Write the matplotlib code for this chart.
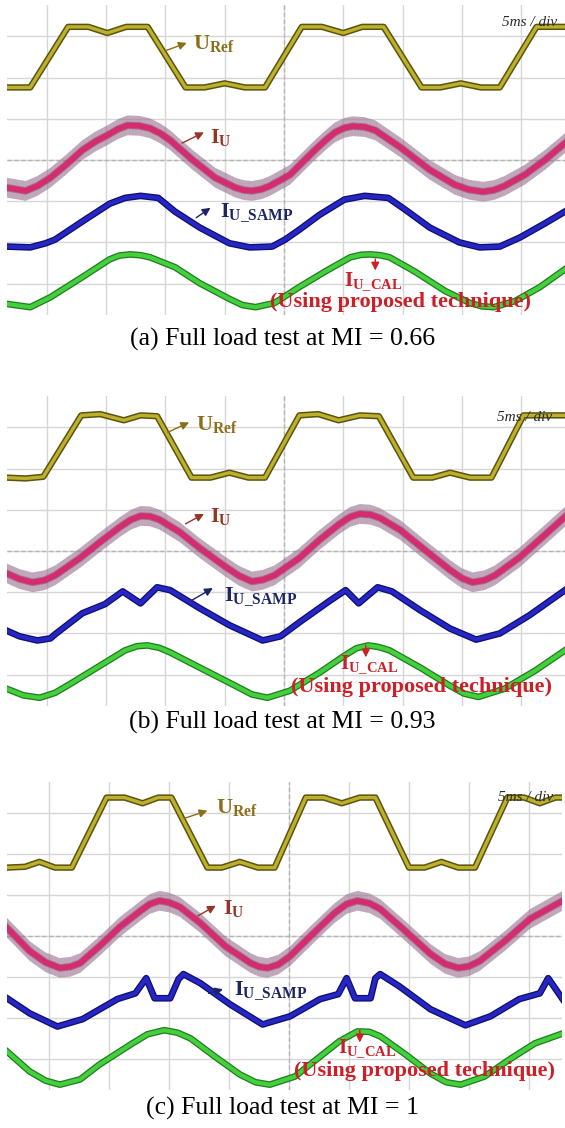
import matplotlib
matplotlib.use('Agg')
import matplotlib.pyplot as plt

plt.rcParams['font.family'] = ['Liberation Serif', 'DejaVu Serif']
plt.rcParams['mathtext.fontset'] = 'custom'
plt.rcParams['mathtext.rm'] = 'Liberation Serif'
plt.rcParams['mathtext.bf'] = 'Liberation Serif:bold'
plt.rcParams['mathtext.it'] = 'Liberation Serif:italic'
plt.rcParams['hatch.linewidth'] = 0.5

# time in ms (5 ms/div, screen 0..50 ms), level in divisions (0 = centre line)
captions = ['(a) Full load test at MI = 0.66',
            '(b) Full load test at MI = 0.93',
            '(c) Full load test at MI = 1']

# ---- (a) MI = 0.66
a_uref_t = [1.6, 3.6, 6.8, 8.5, 10.1, 11.7, 13.5, 16.7, 18.3, 20.0, 21.7, 23.4, 26.5, 28.2, 30.0, 31.6, 33.4,
            36.6, 38.2, 39.9, 41.6, 43.2, 46.3, 48.7]
a_uref_v = [1.76, 1.76, 3.23, 3.23, 3.08, 3.23, 3.23, 1.76, 1.76, 1.86, 1.76, 1.76, 3.23, 3.23, 3.08, 3.23, 3.23,
            1.76, 1.76, 1.86, 1.76, 1.76, 3.23, 3.23]
a_iu_t = [1.6, 3.2, 4.2, 5.3, 6.6, 8.0, 9.1, 10.1, 11.0, 11.8, 12.8, 13.7, 14.6, 15.4, 17.3, 19.2, 20.9, 21.6,
          22.3, 23.1, 23.8, 25.5, 27.6, 28.5, 29.3, 30.1, 30.8, 31.8, 32.7, 34.8, 37.3, 39.4, 40.6, 41.8, 42.7,
          43.6, 45.3, 47.0, 48.7]
a_iu_v = [-0.67, -0.75, -0.63, -0.43, -0.12, 0.24, 0.45, 0.60, 0.75, 0.84, 0.83, 0.77, 0.64, 0.48, 0.00, -0.43,
          -0.67, -0.73, -0.75, -0.71, -0.63, -0.36, 0.24, 0.48, 0.67, 0.78, 0.82, 0.80, 0.72, 0.31, -0.24, -0.60,
          -0.72, -0.77, -0.73, -0.63, -0.36, 0.00, 0.41]
a_samp_t = [1.6, 3.6, 4.9, 5.7, 8.0, 10.3, 11.6, 12.9, 14.4, 15.8, 17.9, 20.4, 22.1, 24.0, 25.1, 26.3, 28.0, 30.1,
            31.8, 33.8, 35.2, 37.3, 39.8, 41.5, 43.2, 44.9, 47.0, 48.7]
a_samp_v = [-2.10, -2.12, -2.02, -1.93, -1.49, -1.06, -0.92, -0.87, -0.92, -1.25, -1.64, -2.02, -2.12, -2.10, -1.93,
            -1.69, -1.33, -0.96, -0.87, -0.92, -1.20, -1.64, -2.00, -2.12, -2.10, -1.88, -1.54, -1.25]
a_cal_t = [1.6, 3.6, 5.3, 8.0, 10.3, 11.1, 12.0, 12.9, 13.7, 15.8, 17.9, 20.4, 21.5, 22.6, 24.2, 26.3, 28.5, 30.6,
           31.5, 32.3, 33.1, 33.9, 36.0, 38.6, 40.7, 41.7, 42.7, 44.5, 46.6, 48.7]
a_cal_v = [-3.49, -3.57, -3.33, -2.84, -2.41, -2.32, -2.29, -2.31, -2.36, -2.60, -2.99, -3.37, -3.52, -3.57, -3.47,
           -3.08, -2.70, -2.36, -2.30, -2.29, -2.31, -2.36, -2.70, -3.18, -3.47, -3.55, -3.57, -3.42, -3.08, -2.65]

# ---- (b) MI = 0.93
b_uref_t = [1.6, 3.2, 4.7, 7.9, 9.5, 11.5, 12.9, 14.3, 17.2, 18.8, 20.4, 22.0, 23.4, 26.3, 27.9, 29.6, 31.4, 33.0,
            35.9, 37.5, 39.0, 40.7, 42.5, 45.2, 48.7]
b_uref_v = [1.78, 1.76, 1.80, 3.29, 3.32, 3.17, 3.29, 3.27, 1.78, 1.78, 1.90, 1.78, 1.78, 3.29, 3.32, 3.17, 3.29,
            3.27, 1.78, 1.78, 1.90, 1.78, 1.78, 3.29, 3.29]
b_iu_t = [1.6, 2.7, 3.8, 4.8, 5.7, 7.8, 9.5, 11.2, 12.1, 12.9, 13.7, 14.5, 16.2, 17.9, 20.0, 21.2, 22.3, 23.2,
          24.2, 26.3, 28.0, 29.7, 30.6, 31.4, 32.3, 33.1, 34.8, 36.9, 39.0, 40.0, 40.9, 41.9, 42.8, 44.9, 47.0, 48.7]
b_iu_v = [-0.54, -0.68, -0.76, -0.71, -0.59, -0.17, 0.22, 0.59, 0.76, 0.85, 0.84, 0.76, 0.46, 0.07, -0.37, -0.60,
          -0.74, -0.70, -0.59, -0.17, 0.27, 0.66, 0.83, 0.90, 0.88, 0.80, 0.51, 0.02, -0.46, -0.66, -0.76, -0.71,
          -0.59, -0.15, 0.39, 0.83]
b_samp_t = [1.6, 2.7, 4.2, 5.3, 5.7, 8.0, 9.9, 11.4, 12.9, 14.3, 15.4, 17.9, 20.4, 23.2, 24.7, 26.3, 28.9, 30.2,
            31.3, 32.9, 34.1, 36.5, 39.0, 41.2, 43.2, 45.7, 48.7]
b_samp_v = [-1.93, -2.07, -2.17, -2.12, -2.02, -1.51, -1.29, -0.98, -1.27, -0.88, -0.95, -1.39, -1.80, -2.17, -2.07,
            -1.73, -1.20, -0.95, -1.27, -0.88, -0.98, -1.44, -1.88, -2.15, -2.00, -1.56, -0.95]
b_cal_t = [1.6, 3.0, 4.4, 5.7, 7.0, 9.5, 11.6, 12.6, 13.5, 14.5, 15.4, 17.9, 20.9, 22.3, 23.6, 25.5, 28.0, 30.1,
           31.1, 32.1, 33.0, 33.9, 36.5, 39.0, 40.2, 41.4, 43.6, 46.2, 48.7]
b_cal_v = [-3.34, -3.50, -3.56, -3.44, -3.22, -2.78, -2.41, -2.31, -2.29, -2.35, -2.46, -2.83, -3.27, -3.48, -3.56,
           -3.39, -2.95, -2.54, -2.36, -2.29, -2.33, -2.41, -2.83, -3.27, -3.46, -3.54, -3.34, -2.90, -2.41]

# ---- (c) MI = 1
c_uref_t = [1.5, 3.0, 4.2, 5.5, 6.9, 9.8, 11.3, 12.8, 14.1, 15.2, 18.2, 19.4, 20.9, 22.4, 23.8, 26.4, 27.9, 29.4,
            30.9, 32.2, 35.0, 36.3, 37.7, 39.1, 40.5, 43.2, 44.6, 45.9, 47.2, 47.8]
c_uref_v = [1.67, 1.69, 1.81, 1.67, 1.67, 3.38, 3.38, 3.24, 3.38, 3.38, 1.67, 1.67, 1.81, 1.67, 1.67, 3.38, 3.38,
            3.24, 3.38, 3.38, 1.67, 1.67, 1.81, 1.67, 1.67, 3.38, 3.38, 3.24, 3.38, 3.38]
c_iu_t = [1.5, 3.4, 4.7, 5.9, 6.8, 7.6, 9.2, 10.9, 12.6, 13.4, 14.2, 15.0, 15.9, 17.6, 19.7, 21.8, 22.5, 23.2,
          24.1, 25.1, 26.8, 28.8, 29.8, 30.7, 31.7, 32.6, 34.7, 36.8, 38.0, 39.1, 40.0, 40.9, 43.0, 45.1, 47.8]
c_iu_v = [0.20, -0.37, -0.64, -0.78, -0.75, -0.66, -0.25, 0.22, 0.61, 0.78, 0.86, 0.82, 0.71, 0.32, -0.25, -0.66,
          -0.75, -0.78, -0.70, -0.49, 0.00, 0.56, 0.78, 0.86, 0.80, 0.66, 0.12, -0.44, -0.68, -0.78, -0.74, -0.61,
          -0.12, 0.42, 0.86]
c_samp_t = [1.5, 3.4, 5.7, 7.8, 10.7, 12.2, 13.1, 13.8, 15.1, 15.8, 16.2, 17.6, 20.1, 22.8, 25.1, 27.6, 29.1, 29.8,
            30.5, 31.8, 32.2, 32.6, 34.2, 36.8, 39.7, 41.8, 44.2, 45.9, 46.6, 47.8]
c_samp_v = [-1.52, -1.89, -2.21, -2.03, -1.54, -1.40, -1.03, -1.52, -1.52, -1.05, -0.93, -1.15, -1.67, -2.16, -1.96,
            -1.54, -1.42, -1.03, -1.52, -1.52, -1.03, -0.93, -1.23, -1.79, -2.18, -1.96, -1.54, -1.40, -1.03, -1.54]
c_cal_t = [1.5, 3.4, 4.7, 5.9, 7.6, 9.2, 11.8, 13.2, 14.6, 15.7, 16.8, 18.8, 20.9, 22.2, 23.4, 25.5, 27.6, 29.2,
           30.7, 31.7, 32.6, 34.7, 36.8, 38.1, 39.3, 41.3, 43.4, 45.5, 47.8]
c_cal_v = [-2.82, -3.31, -3.53, -3.63, -3.50, -3.14, -2.65, -2.40, -2.30, -2.36, -2.50, -2.94, -3.38, -3.57, -3.63,
           -3.43, -2.94, -2.57, -2.33, -2.34, -2.45, -2.89, -3.36, -3.57, -3.63, -3.43, -3.01, -2.62, -2.38]

panels = [
    dict(uref=(a_uref_t, a_uref_v), iu=(a_iu_t, a_iu_v), samp=(a_samp_t, a_samp_v), cal=(a_cal_t, a_cal_v),
         rect=[7 / 565, 813 / 1128, 558 / 565, 310 / 1128], xlim=(1.64, 48.7),
         lab_uref=((15.0, 2.65), (16.8, 2.84), (17.3, 2.82)),
         lab_iu=((16.4, 0.41), (18.25, 0.67), (18.8, 0.55)),
         lab_samp=((17.6, -1.40), (18.8, -1.16), (19.6, -1.28)),
         lab_cal=((32.7, -2.40), (32.7, -2.68), (32.5, -2.93), (34.8, -3.44)),
         scale=(45.7, 3.33), cap_y=339),
    dict(uref=(b_uref_t, b_uref_v), iu=(b_iu_t, b_iu_v), samp=(b_samp_t, b_samp_v), cal=(b_cal_t, b_cal_v),
         rect=[7 / 565, 422 / 1128, 558 / 565, 310 / 1128], xlim=(1.64, 48.7),
         lab_uref=((15.2, 2.88), (17.0, 3.12), (17.6, 3.07)),
         lab_iu=((16.7, 0.66), (18.25, 0.90), (18.8, 0.83)),
         lab_samp=((17.2, -1.20), (19.0, -0.90), (19.9, -1.12)),
         lab_cal=((31.9, -2.28), (31.9, -2.58), (32.2, -2.75), (36.6, -3.29)),
         scale=(45.3, 3.24), cap_y=722),
    dict(uref=(c_uref_t, c_uref_v), iu=(c_iu_t, c_iu_v), samp=(c_samp_t, c_samp_v), cal=(c_cal_t, c_cal_v),
         rect=[7 / 565, 38 / 1128, 555 / 565, 308 / 1128], xlim=(1.5, 47.75),
         lab_uref=((16.25, 2.87), (18.2, 3.06), (18.9, 3.14)),
         lab_iu=((17.4, 0.49), (18.9, 0.74), (19.5, 0.66)),
         lab_samp=((18.3, -1.40), (19.5, -1.30), (20.4, -1.35)),
         lab_cal=((30.9, -2.30), (30.9, -2.60), (31.5, -2.74), (36.3, -3.29)),
         scale=(44.7, 3.38), cap_y=1108),
]

fig = plt.figure(figsize=(5.65, 11.28), dpi=100)

col_uref = '#8c6d18'
col_iu = '#983424'
col_samp = '#1b2466'
col_cal = '#cc1f26'
ripple = 0.24  # half height of the switching ripple band on I_U, in divisions

for p, cap in zip(panels, captions):
    ax = fig.add_axes(p['rect'])
    ax.set_xlim(*p['xlim'])
    ax.set_ylim(-3.76, 3.76)
    ax.set_xticks(range(5, 50, 5))
    ax.set_yticks(range(-3, 4))
    ax.grid(True, color='#d6d6d6', lw=1.0)
    ax.axvline(25, color='#b4b4b4', lw=1.0, ls=(0, (3, 2)), zorder=1)
    ax.axhline(0, color='#b4b4b4', lw=1.0, ls=(0, (3, 2)), zorder=1)
    ax.tick_params(length=0, labelbottom=False, labelleft=False)
    for s in ax.spines.values():
        s.set_visible(False)
    ax.set_axisbelow(True)

    # U_Ref
    t, v = p['uref']
    ax.plot(t, v, color='#5a5410', lw=4.6, solid_joinstyle='round', zorder=3)
    ax.plot(t, v, color='#bdb02c', lw=2.4, solid_joinstyle='round', zorder=4)

    # I_U with switching ripple (hairy band around the fundamental)
    t, v = p['iu']
    lo = [y - ripple for y in v]
    hi = [y + ripple for y in v]
    ax.fill_between(t, lo, hi, facecolor='#dcc2d4', alpha=0.35, lw=0, zorder=3)
    ax.fill_between(t, lo, hi, facecolor='none', edgecolor='#7a4c70', hatch='|' * 22, lw=0, alpha=0.45,
                    zorder=3)
    ax.plot(t, v, color='#8a3a66', lw=5.4, solid_joinstyle='round', alpha=0.5, zorder=4)
    ax.plot(t, v, color='#d42c6e', lw=4.0, solid_joinstyle='round', zorder=4)

    # I_U_SAMP
    t, v = p['samp']
    ax.plot(t, v, color='#0e0e6e', lw=4.8, solid_joinstyle='round', zorder=3)
    ax.plot(t, v, color='#2626c4', lw=3.0, solid_joinstyle='round', zorder=4)

    # I_U_CAL
    t, v = p['cal']
    ax.plot(t, v, color='#1f7c1f', lw=4.8, solid_joinstyle='round', zorder=3)
    ax.plot(t, v, color='#44d03c', lw=3.0, solid_joinstyle='round', zorder=4)

    arrow = dict(arrowstyle='-|>', lw=1.0, mutation_scale=12, shrinkA=0, shrinkB=0)

    tail, head, txt = p['lab_uref']
    ax.annotate('', xy=head, xytext=tail, arrowprops=dict(arrow, color=col_uref), zorder=6)
    ax.text(*txt, r'$\mathbf{U}_{\mathbf{Ref}}$', color=col_uref, fontsize=16, ha='left', va='center', zorder=6)

    tail, head, txt = p['lab_iu']
    ax.annotate('', xy=head, xytext=tail, arrowprops=dict(arrow, color=col_iu), zorder=6)
    ax.text(*txt, r'$\mathbf{I}_{\mathbf{U}}$', color=col_iu, fontsize=16, ha='left', va='center', zorder=6)

    tail, head, txt = p['lab_samp']
    ax.annotate('', xy=head, xytext=tail, arrowprops=dict(arrow, color=col_samp), zorder=6)
    ax.text(*txt, r'$\mathbf{I}_{\mathbf{U\_SAMP}}$', color=col_samp, fontsize=16, ha='left', va='center',
            zorder=6)

    tail, head, txt, txt2 = p['lab_cal']
    ax.annotate('', xy=head, xytext=tail, arrowprops=dict(arrow, color=col_cal), zorder=6)
    ax.text(*txt, r'$\mathbf{I}_{\mathbf{U\_CAL}}$', color=col_cal, fontsize=15, ha='center', va='center',
            zorder=6)
    ax.text(*txt2, '(Using proposed technique)', color=col_cal, fontsize=16, fontweight='bold',
            ha='center', va='center', zorder=6)

    ax.text(*p['scale'], '5ms / div', style='italic', fontsize=11, color='#2a2a2a',
            ha='center', va='center', zorder=6)

    fig.text(0.5, 1 - p['cap_y'] / 1128, cap, fontsize=18.5, ha='center', va='center')

fig.savefig('out.png', dpi=100)
